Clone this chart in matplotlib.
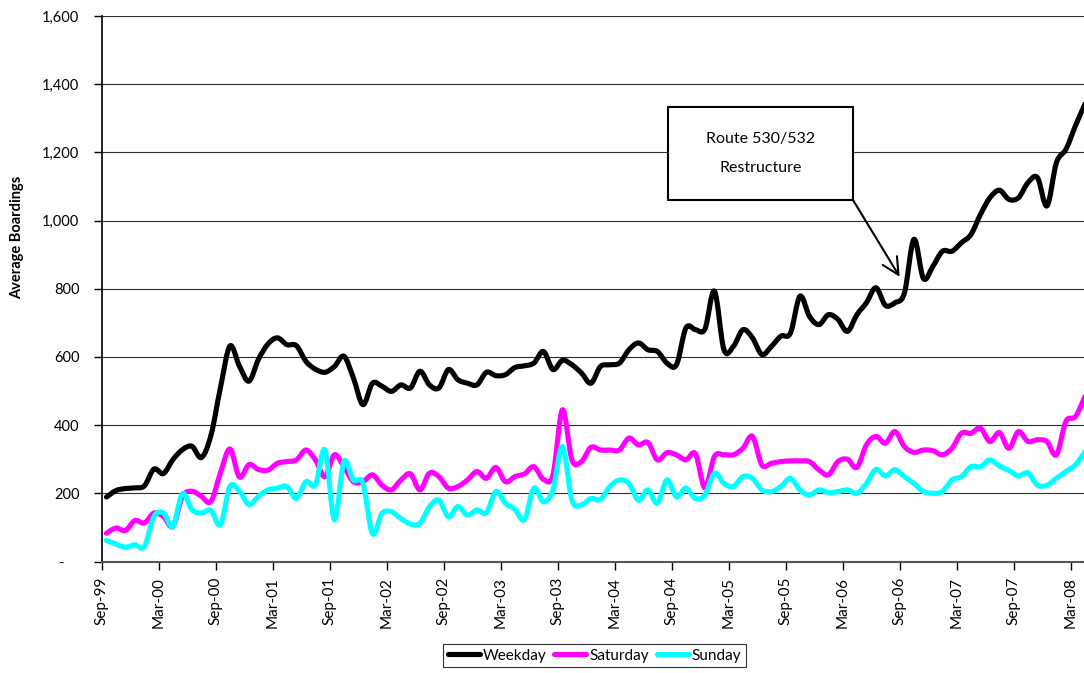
import numpy as np
import matplotlib
matplotlib.use("Agg")
import matplotlib.pyplot as plt
from matplotlib.path import Path
from matplotlib.patches import PathPatch, Rectangle
from matplotlib.lines import Line2D
from matplotlib.ticker import FuncFormatter

plt.rcParams['font.family'] = ['Lato', 'DejaVu Sans']

# Monthly average boardings, Sep-99 through Apr-08
tick_labels = ["Sep-99", "Mar-00", "Sep-00", "Mar-01", "Sep-01", "Mar-02",
               "Sep-02", "Mar-03", "Sep-03", "Mar-04", "Sep-04", "Mar-05",
               "Sep-05", "Mar-06", "Sep-06", "Mar-07", "Sep-07", "Mar-08"]

weekday = [189, 208, 214, 216, 222, 271, 258, 299, 328, 338,
           305, 370, 510, 632, 573, 529, 593, 638, 656, 636,
           633, 587, 564, 555, 572, 602, 538, 460, 523, 514,
           499, 518, 509, 558, 518, 509, 563, 533, 523, 518,
           555, 545, 548, 569, 574, 582, 616, 563, 590, 577,
           553, 523, 572, 577, 582, 621, 641, 621, 616, 582,
           577, 685, 680, 682, 793, 621, 631, 680, 656, 607,
           631, 661, 670, 778, 719, 695, 724, 710, 675, 724,
           759, 803, 751, 759, 788, 945, 830, 866, 910, 910,
           935, 959, 1018, 1067, 1089, 1062, 1067, 1111, 1126, 1043,
           1170, 1209, 1278, 1342]

saturday = [83, 98, 91, 120, 113, 142, 132, 103, 191, 206,
            191, 176, 260, 330, 248, 284, 270, 268, 288, 293,
            298, 327, 298, 249, 313, 278, 234, 234, 254, 224,
            210, 239, 257, 210, 259, 249, 215, 220, 239, 264,
            244, 276, 234, 249, 257, 278, 241, 254, 445, 298,
            293, 335, 327, 327, 327, 362, 342, 349, 298, 319,
            313, 298, 316, 216, 308, 313, 313, 332, 367, 283,
            288, 293, 295, 295, 293, 269, 254, 293, 300, 276,
            342, 367, 347, 381, 337, 320, 327, 325, 313, 332,
            376, 376, 391, 352, 378, 332, 381, 352, 357, 352,
            313, 411, 425, 484]

sunday = [62, 51, 42, 49, 44, 132, 142, 103, 199, 152,
          142, 150, 108, 220, 206, 167, 191, 210, 215, 220,
          185, 234, 225, 327, 122, 293, 239, 229, 82, 141,
          146, 126, 110, 112, 160, 180, 131, 161, 136, 151,
          143, 205, 171, 153, 123, 215, 175, 210, 337, 180,
          166, 185, 182, 220, 239, 229, 180, 210, 171, 239,
          190, 215, 185, 195, 259, 229, 220, 249, 244, 210,
          205, 220, 244, 210, 195, 210, 202, 205, 210, 200,
          229, 270, 251, 269, 249, 229, 205, 200, 205, 239,
          249, 278, 278, 298, 280, 267, 251, 260, 224, 224,
          244, 264, 283, 322]

series_names = ["Weekday", "Saturday", "Sunday"]
series_values = [weekday, saturday, sunday]
series_colors = ["#000000", "#FF00FF", "#00FFFF"]

W, H = 1084, 673
fig = plt.figure(figsize=(W / 100, H / 100), dpi=100)
ax = fig.add_axes([101.7 / W, (H - 561.5) / H, (W - 101.7) / W, (561.5 - 16) / H])
ax.set_xlim(-0.5, -0.5 + (W - 101.7) / 9.5)
ax.set_ylim(0, 1600)


def smooth_path(values):
    """Cubic Bezier path through every point (Catmull-Rom style tangents)."""
    y = np.asarray(values, float)
    pts = np.column_stack([np.arange(len(y)), y])
    n = len(pts)
    verts = [pts[0]]
    codes = [Path.MOVETO]
    for k in range(n - 1):
        p0 = pts[max(k - 1, 0)]
        p1 = pts[k]
        p2 = pts[k + 1]
        p3 = pts[min(k + 2, n - 1)]
        verts += [p1 + (p2 - p0) / 6.0, p2 - (p3 - p1) / 6.0, p2]
        codes += [Path.CURVE4] * 3
    return Path(verts, codes)


for z, (vals, col) in enumerate(zip(series_values, series_colors)):
    patch = PathPatch(smooth_path(vals), fill=False, edgecolor=col, lw=3.7,
                      capstyle='round', joinstyle='round', zorder=3 + z)
    ax.add_patch(patch)

# Axes styling
ax.set_yticks(np.arange(0, 1601, 200))
ax.yaxis.set_major_formatter(FuncFormatter(
    lambda v, p: "-    " if v == 0 else f"{int(v):,}"))
ax.yaxis.grid(True, color='#2e2e2e', lw=0.8)
ax.set_axisbelow(True)
ax.set_xticks(np.arange(-0.5, 102, 6))
ax.set_xticklabels(tick_labels, rotation=90)
ax.tick_params(axis='x', length=6, width=1, pad=5, labelsize=11)
ax.tick_params(axis='y', length=6, width=1, pad=10, labelsize=10.5)
for s in ("top", "right"):
    ax.spines[s].set_visible(False)
ax.spines["left"].set_color("black")
ax.spines["left"].set_linewidth(1.2)
ax.spines["bottom"].set_color("#555555")
ax.spines["bottom"].set_linewidth(1.5)

fig.text(17 / W, 1 - 237 / H, "Average Boardings", rotation=90,
         ha='center', va='center', fontsize=10.5, fontweight='bold')

# Callout box with arrow
box = Rectangle((668 / W, (H - 200) / H), (853 - 668) / W, (200 - 107) / H,
                transform=fig.transFigure, facecolor='white', edgecolor='black',
                lw=1.5, zorder=10)
fig.add_artist(box)
fig.text(760.5 / W, 1 - 139 / H, "Route 530/532", ha='center', va='center',
         fontsize=11.5, zorder=11)
fig.text(760.5 / W, 1 - 168 / H, "Restructure", ha='center', va='center',
         fontsize=11.5, zorder=11)
ax.annotate('', xy=(83.5, 835), xycoords='data',
            xytext=(853, H - 200), textcoords='figure pixels',
            arrowprops=dict(arrowstyle='->,head_length=0.6,head_width=0.3',
                            lw=1.5, color='black', shrinkA=0, shrinkB=0,
                            mutation_scale=20),
            zorder=10)

handles = [Line2D([], [], color=c, lw=3.7, solid_capstyle='round')
           for c in series_colors]
leg = fig.legend(handles, series_names, loc='upper left',
                 bbox_to_anchor=(443 / W, 1 - 644 / H),
                 bbox_transform=fig.transFigure, ncol=3, frameon=True,
                 fancybox=False, edgecolor='black', handlelength=2.1,
                 handletextpad=0.2, columnspacing=0.5, borderpad=0.3,
                 borderaxespad=0, fontsize=11)
leg.get_frame().set_linewidth(0.8)

fig.savefig("out.png", dpi=100)
